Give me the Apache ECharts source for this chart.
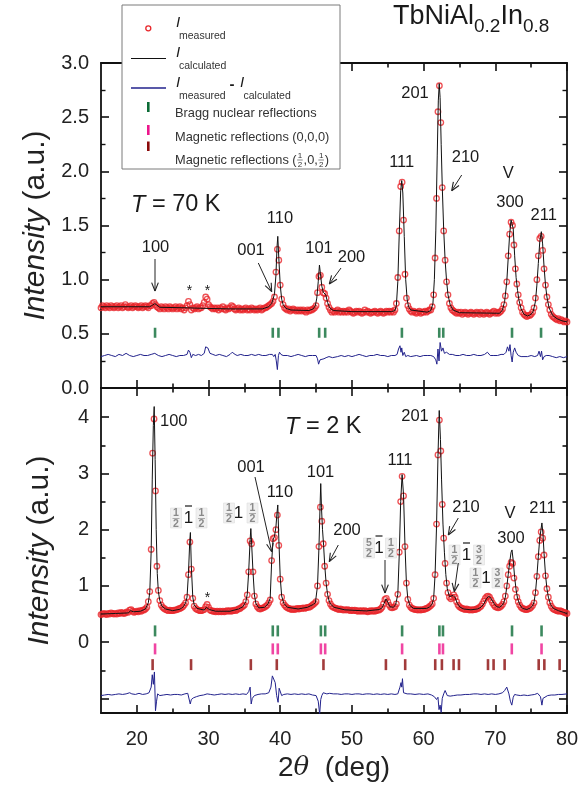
<!DOCTYPE html>
<html><head><meta charset="utf-8">
<script src="https://cdn.jsdelivr.net/npm/echarts@6/dist/echarts.min.js"></script>
<style>html,body{margin:0;padding:0;background:#fff}#c{width:588px;height:804px}</style>
</head><body><div id="c"></div>
<script>
// ---------------- DATA ----------------
const twoThetaStart = 15, twoThetaStep = 0.2;
// T = 70 K measured intensity, sampled every 0.2 deg from 15.0 to 80.0
const measured70K = [
0.74,0.76,0.75,0.74,0.76,0.75,0.74,0.76,0.75,0.74,
0.75,0.76,0.74,0.75,0.76,0.74,0.75,0.77,0.75,0.74,
0.75,0.76,0.74,0.75,0.76,0.75,0.74,0.75,0.76,0.74,
0.75,0.76,0.75,0.74,0.76,0.76,0.78,0.79,0.77,0.75,
0.74,0.73,0.75,0.74,0.73,0.75,0.74,0.73,0.75,0.74,
0.73,0.74,0.75,0.73,0.74,0.75,0.73,0.74,0.72,0.74,
0.76,0.80,0.77,0.72,0.74,0.73,0.74,0.75,0.73,0.74,
0.74,0.76,0.79,0.84,0.82,0.77,0.75,0.74,0.73,0.74,
0.73,0.74,0.72,0.74,0.73,0.75,0.73,0.72,0.74,0.73,
0.74,0.76,0.75,0.73,0.72,0.73,0.74,0.72,0.73,0.72,
0.73,0.74,0.72,0.73,0.72,0.74,0.73,0.72,0.73,0.72,
0.73,0.74,0.72,0.73,0.74,0.74,0.75,0.76,0.77,0.78,
0.80,0.84,1.07,1.28,1.18,0.95,0.82,0.77,0.74,0.73,
0.72,0.73,0.71,0.72,0.73,0.72,0.71,0.72,0.71,0.72,
0.71,0.72,0.71,0.70,0.72,0.71,0.72,0.72,0.73,0.74,
0.76,0.88,1.03,1.04,0.93,0.88,0.87,0.83,0.78,0.745,
0.72,0.70,0.71,0.70,0.71,0.72,0.70,0.71,0.70,0.71,
0.70,0.71,0.70,0.72,0.71,0.70,0.69,0.70,0.71,0.70,
0.71,0.70,0.69,0.70,0.72,0.70,0.71,0.70,0.69,0.70,
0.70,0.71,0.70,0.69,0.70,0.71,0.70,0.69,0.70,0.71,
0.70,0.71,0.70,0.71,0.70,0.72,0.78,1.02,1.45,1.86,
1.90,1.55,1.05,0.83,0.76,0.73,0.71,0.70,0.71,0.70,
0.69,0.70,0.71,0.69,0.70,0.70,0.71,0.70,0.71,0.72,
0.72,0.75,0.86,1.20,1.75,2.55,2.79,2.45,1.85,1.45,
1.18,0.98,0.86,0.78,0.74,0.72,0.71,0.70,0.69,0.70,
0.69,0.70,0.68,0.69,0.70,0.69,0.68,0.69,0.70,0.69,
0.68,0.69,0.70,0.69,0.68,0.70,0.69,0.68,0.69,0.70,
0.69,0.68,0.69,0.70,0.71,0.69,0.70,0.69,0.70,0.71,
0.73,0.77,0.85,0.98,1.22,1.42,1.53,1.50,1.32,1.10,
0.96,0.86,0.79,0.74,0.70,0.68,0.67,0.66,0.67,0.67,
0.68,0.70,0.74,0.83,1.00,1.22,1.38,1.40,1.27,1.10,
0.95,0.84,0.77,0.72,0.68,0.66,0.65,0.64,0.63,0.64,
0.62,0.63,0.62,0.61,0.62,0.61];
const calculated70K = [[15,0.75],[21.8,0.75],[22.2,0.765],[22.5,0.78],[22.8,0.765],[23.2,0.745],[27.0,0.74],[29.5,0.735],[33,0.73],[37.5,0.73],[38.4,0.75],[38.8,0.78],[39.0,0.82],[39.2,0.87],[39.4,1.04],[39.55,1.30],[39.66,1.40],[39.8,1.20],[40.0,0.95],[40.2,0.82],[40.4,0.77],[40.8,0.735],[41.5,0.72],[44.0,0.715],[44.6,0.73],[44.9,0.76],[45.1,0.83],[45.3,0.98],[45.47,1.135],[45.6,1.06],[45.8,0.94],[46.0,0.885],[46.2,0.875],[46.35,0.86],[46.6,0.79],[46.9,0.74],[47.4,0.715],[50,0.705],[55.5,0.705],[56.0,0.715],[56.2,0.76],[56.4,0.98],[56.6,1.42],[56.8,1.82],[56.95,1.915],[57.1,1.80],[57.3,1.40],[57.5,1.00],[57.7,0.82],[57.9,0.75],[58.2,0.72],[60.5,0.70],[61.0,0.715],[61.3,0.78],[61.5,1.00],[61.7,1.45],[61.9,2.15],[62.05,2.65],[62.18,2.81],[62.3,2.68],[62.45,2.25],[62.6,1.86],[62.8,1.46],[63.0,1.18],[63.2,0.99],[63.4,0.86],[63.7,0.77],[64.1,0.72],[65,0.695],[70.6,0.69],[71.0,0.72],[71.3,0.80],[71.6,0.98],[71.8,1.20],[72.0,1.42],[72.2,1.55],[72.33,1.567],[72.5,1.47],[72.7,1.22],[72.9,1.02],[73.1,0.90],[73.3,0.81],[73.6,0.73],[74.0,0.68],[74.5,0.665],[75.0,0.68],[75.3,0.71],[75.6,0.80],[75.8,0.95],[76.0,1.15],[76.2,1.35],[76.42,1.443],[76.6,1.33],[76.8,1.12],[77.0,0.95],[77.2,0.84],[77.5,0.74],[78.0,0.67],[78.6,0.64],[79.3,0.62],[80,0.61]];
const difference70K = [[15,0.29],[15.5,0.30],[16,0.31],[16.5,0.30],[17,0.29],[17.5,0.31],[18,0.30],[18.5,0.32],[19,0.30],[19.5,0.29],[20,0.30],[20.5,0.31],[21,0.30],[21.5,0.30],[22,0.31],[22.5,0.32],[23,0.30],[23.5,0.29],[24,0.30],[24.5,0.31],[25,0.30],[25.5,0.29],[26,0.30],[26.5,0.30],[27,0.31],[27.2,0.35],[27.4,0.33],[27.6,0.28],[27.8,0.31],[28.2,0.30],[28.6,0.31],[29,0.30],[29.4,0.32],[29.6,0.38],[29.9,0.37],[30.2,0.32],[30.6,0.31],[31,0.30],[31.5,0.31],[32,0.30],[32.5,0.29],[33,0.31],[33.3,0.33],[33.7,0.31],[34,0.30],[34.5,0.31],[35,0.30],[35.5,0.30],[36,0.31],[36.5,0.30],[37,0.31],[37.5,0.30],[38,0.30],[38.5,0.31],[38.9,0.31],[39.1,0.29],[39.3,0.31],[39.45,0.25],[39.6,0.17],[39.75,0.30],[39.9,0.33],[40.1,0.31],[40.4,0.30],[41,0.30],[41.5,0.29],[42,0.30],[42.5,0.31],[43,0.30],[43.5,0.29],[44,0.30],[44.5,0.30],[45.0,0.30],[45.2,0.27],[45.35,0.22],[45.55,0.26],[45.8,0.25],[46.1,0.27],[46.4,0.28],[46.8,0.29],[47.3,0.28],[48,0.29],[48.5,0.30],[49,0.29],[49.5,0.30],[50,0.29],[50.5,0.30],[51,0.31],[51.5,0.30],[52,0.29],[52.5,0.30],[53,0.30],[53.5,0.31],[54,0.30],[54.5,0.30],[55,0.29],[55.5,0.30],[56,0.30],[56.3,0.31],[56.5,0.36],[56.7,0.39],[56.85,0.33],[56.95,0.37],[57.1,0.30],[57.3,0.33],[57.5,0.29],[57.8,0.30],[58.2,0.29],[59,0.30],[59.5,0.29],[60,0.30],[60.5,0.30],[61,0.30],[61.4,0.29],[61.7,0.26],[61.85,0.22],[62.0,0.36],[62.15,0.25],[62.3,0.42],[62.5,0.34],[62.7,0.37],[62.9,0.32],[63.2,0.33],[63.6,0.31],[64,0.31],[64.5,0.30],[65,0.30],[65.5,0.31],[66,0.30],[66.5,0.30],[67,0.31],[67.5,0.30],[68,0.30],[68.5,0.31],[68.9,0.33],[69.3,0.30],[69.8,0.30],[70.3,0.30],[70.8,0.31],[71.2,0.31],[71.5,0.33],[71.7,0.38],[71.9,0.34],[72.05,0.40],[72.2,0.30],[72.35,0.24],[72.5,0.33],[72.7,0.37],[72.9,0.33],[73.2,0.30],[73.6,0.29],[74,0.29],[74.5,0.29],[75,0.30],[75.5,0.29],[75.9,0.30],[76.1,0.34],[76.3,0.29],[76.45,0.34],[76.6,0.26],[76.8,0.29],[77.1,0.30],[77.5,0.30],[78,0.29],[78.5,0.28],[79,0.29],[79.5,0.28],[80,0.29]];

// T = 2 K
const measured2K = [
0.49,0.50,0.51,0.50,0.49,0.51,0.50,0.52,0.51,0.50,
0.51,0.50,0.52,0.51,0.53,0.52,0.51,0.52,0.54,0.53,
0.57,0.58,0.55,0.53,0.54,0.55,0.54,0.56,0.55,0.57,
0.57,0.59,0.62,0.72,0.90,1.65,3.36,3.97,2.69,1.35,
0.92,0.74,0.66,0.62,0.60,0.58,0.57,0.56,0.57,0.56,
0.56,0.57,0.57,0.58,0.59,0.60,0.61,0.63,0.66,0.70,
0.80,1.20,1.78,1.30,0.78,0.64,0.60,0.58,0.57,0.56,
0.56,0.57,0.58,0.63,0.67,0.62,0.57,0.56,0.55,0.55,
0.54,0.55,0.54,0.55,0.54,0.55,0.54,0.55,0.56,0.55,
0.56,0.55,0.56,0.57,0.56,0.58,0.59,0.60,0.62,0.64,
0.66,0.72,0.84,1.25,1.80,1.75,1.25,0.82,0.68,0.63,
0.60,0.59,0.60,0.61,0.62,0.64,0.66,0.70,0.75,1.45,
1.84,1.86,2.00,2.26,1.72,1.12,0.80,0.70,0.66,0.63,
0.61,0.60,0.59,0.58,0.59,0.58,0.59,0.60,0.59,0.60,
0.60,0.61,0.60,0.61,0.62,0.62,0.63,0.65,0.67,0.69,
0.72,1.00,1.70,2.40,2.15,1.75,1.35,1.05,0.85,0.74,
0.68,0.64,0.62,0.61,0.60,0.59,0.58,0.59,0.58,0.57,
0.58,0.57,0.58,0.57,0.56,0.57,0.56,0.57,0.56,0.55,
0.56,0.55,0.56,0.55,0.56,0.55,0.54,0.55,0.56,0.55,
0.56,0.55,0.56,0.57,0.57,0.59,0.62,0.68,0.76,0.78,
0.72,0.66,0.62,0.61,0.62,0.63,0.68,0.85,1.60,2.50,
2.95,2.60,1.70,1.05,0.76,0.66,0.62,0.60,0.59,0.58,
0.58,0.57,0.58,0.57,0.58,0.58,0.59,0.60,0.61,0.63,
0.65,0.68,0.78,1.20,2.10,3.33,3.95,3.40,2.45,1.85,
1.40,1.05,0.88,0.80,0.77,0.80,0.84,0.80,0.72,0.66,
0.63,0.61,0.60,0.59,0.58,0.59,0.58,0.57,0.58,0.57,
0.58,0.58,0.59,0.60,0.62,0.64,0.68,0.73,0.78,0.81,
0.82,0.80,0.75,0.70,0.66,0.63,0.62,0.61,0.62,0.64,
0.67,0.72,0.82,1.00,1.20,1.35,1.42,1.40,1.14,0.94,
0.80,0.72,0.66,0.62,0.60,0.59,0.58,0.58,0.59,0.60,
0.62,0.65,0.70,0.88,1.17,1.52,1.81,1.96,1.85,1.55,
1.18,0.95,0.80,0.70,0.64,0.60,0.58,0.57,0.56,0.55,
0.56,0.55,0.54,0.53,0.52,0.51];
const calculated2K = [[15,0.50],[17,0.51],[18.8,0.52],[19.15,0.56],[19.5,0.54],[20.5,0.55],[21.2,0.59],[21.6,0.70],[21.8,0.88],[22.0,1.62],[22.15,2.90],[22.3,3.85],[22.42,4.19],[22.55,3.25],[22.7,2.00],[22.85,1.22],[23.0,0.90],[23.2,0.74],[23.5,0.64],[24,0.59],[25,0.56],[26,0.585],[26.5,0.63],[26.8,0.70],[27.0,0.80],[27.2,1.22],[27.38,1.80],[27.47,1.95],[27.6,1.35],[27.8,0.80],[28.0,0.66],[28.4,0.60],[29.4,0.57],[29.7,0.62],[29.85,0.64],[30.1,0.58],[31,0.55],[33,0.55],[34.2,0.59],[34.8,0.63],[35.0,0.66],[35.2,0.72],[35.4,0.85],[35.6,1.25],[35.8,1.82],[35.9,2.02],[36.0,1.78],[36.2,1.25],[36.4,0.84],[36.6,0.69],[37.0,0.61],[37.8,0.62],[38.3,0.68],[38.6,0.78],[38.8,1.42],[39.0,1.82],[39.2,1.88],[39.4,2.05],[39.55,2.30],[39.66,2.44],[39.8,1.85],[40.0,1.15],[40.2,0.82],[40.5,0.69],[41.0,0.62],[42.5,0.59],[43.8,0.62],[44.6,0.67],[44.9,0.70],[45.2,1.00],[45.4,1.68],[45.55,2.40],[45.65,2.82],[45.75,2.40],[45.9,2.00],[46.05,1.72],[46.2,1.38],[46.4,1.05],[46.6,0.85],[46.8,0.74],[47.0,0.68],[47.5,0.62],[49,0.575],[52,0.555],[53.8,0.58],[54.2,0.61],[54.5,0.69],[54.75,0.77],[55.0,0.71],[55.3,0.63],[55.8,0.62],[56.1,0.67],[56.4,0.85],[56.6,1.55],[56.8,2.50],[57.0,2.98],[57.2,2.62],[57.4,1.72],[57.6,1.05],[57.8,0.77],[58.1,0.65],[58.6,0.60],[60.4,0.60],[60.8,0.62],[61.2,0.68],[61.4,0.78],[61.6,1.20],[61.8,2.05],[62.0,3.30],[62.18,4.12],[62.35,3.60],[62.5,2.90],[62.7,2.10],[62.9,1.60],[63.1,1.20],[63.3,0.95],[63.6,0.81],[63.85,0.78],[64.1,0.83],[64.4,0.79],[64.7,0.69],[65.1,0.62],[65.6,0.59],[66.6,0.575],[67.5,0.59],[68.0,0.62],[68.4,0.68],[68.8,0.78],[69.1,0.815],[69.4,0.78],[69.8,0.69],[70.2,0.63],[70.6,0.62],[71.0,0.66],[71.2,0.71],[71.4,0.80],[71.6,0.98],[71.8,1.20],[72.0,1.42],[72.2,1.60],[72.33,1.64],[72.5,1.45],[72.7,1.15],[72.9,0.93],[73.1,0.78],[73.4,0.67],[73.8,0.60],[74.4,0.58],[74.9,0.61],[75.2,0.645],[75.4,0.71],[75.6,0.88],[75.8,1.17],[76.0,1.52],[76.2,1.85],[76.5,2.12],[76.65,1.92],[76.8,1.58],[77.0,1.20],[77.2,0.95],[77.4,0.80],[77.7,0.67],[78.1,0.60],[78.8,0.56],[79.5,0.53],[80,0.51]];
const difference2K = [[15,-0.95],[15.5,-0.94],[16,-0.93],[16.5,-0.94],[17,-0.93],[17.5,-0.92],[18,-0.93],[18.5,-0.92],[19,-0.90],[19.3,-0.92],[19.8,-0.93],[20.3,-0.91],[20.8,-0.93],[21.3,-0.92],[21.7,-0.90],[22.0,-0.80],[22.15,-0.58],[22.3,-0.75],[22.45,-0.53],[22.6,-1.22],[22.75,-1.05],[22.9,-0.92],[23.2,-0.95],[23.7,-0.94],[24.2,-0.93],[24.7,-0.94],[25.2,-0.93],[25.7,-0.93],[26.2,-0.94],[26.7,-0.92],[27.1,-0.91],[27.3,-0.88],[27.45,-1.10],[27.6,-1.02],[27.9,-0.99],[28.3,-0.97],[28.8,-0.95],[29.3,-0.94],[29.8,-0.92],[30.3,-0.93],[30.8,-0.94],[31.3,-0.93],[31.8,-0.92],[32.3,-0.93],[32.8,-0.92],[33.3,-0.93],[33.8,-0.92],[34.3,-0.93],[34.8,-0.92],[35.3,-0.93],[35.6,-0.88],[35.8,-0.80],[35.95,-1.10],[36.1,-1.00],[36.4,-0.95],[36.9,-0.93],[37.4,-0.92],[37.9,-0.92],[38.4,-0.90],[38.7,-0.80],[38.9,-0.60],[39.1,-0.63],[39.3,-0.72],[39.5,-0.95],[39.7,-1.07],[39.85,-0.82],[40.0,-0.85],[40.2,-0.95],[40.5,-0.93],[41,-0.92],[41.5,-0.93],[42,-0.92],[42.5,-0.93],[43,-0.92],[43.5,-0.93],[44,-0.92],[44.5,-0.94],[45.0,-0.95],[45.3,-1.05],[45.5,-1.28],[45.65,-1.02],[45.8,-0.95],[46.0,-0.90],[46.2,-0.93],[46.5,-0.92],[46.9,-0.91],[47.4,-0.92],[48,-0.92],[48.5,-0.93],[49,-0.92],[49.5,-0.92],[50,-0.93],[50.5,-0.92],[51,-0.92],[51.5,-0.93],[52,-0.92],[52.5,-0.92],[53,-0.93],[53.5,-0.92],[54,-0.93],[54.5,-0.92],[55,-0.93],[55.5,-0.92],[56,-0.93],[56.4,-0.92],[56.7,-0.80],[56.85,-0.72],[56.95,-0.80],[57.05,-0.65],[57.2,-0.90],[57.4,-0.88],[57.7,-0.92],[58.2,-0.92],[58.8,-0.93],[59.4,-0.92],[60,-0.93],[60.6,-0.92],[61.1,-0.94],[61.5,-0.97],[61.8,-1.02],[62.0,-0.98],[62.15,-1.20],[62.3,-1.12],[62.45,-1.25],[62.6,-1.00],[62.8,-0.92],[63.0,-0.86],[63.3,-0.95],[63.7,-0.96],[64.2,-0.95],[64.7,-0.94],[65.2,-0.94],[65.8,-0.93],[66.4,-0.93],[67,-0.92],[67.5,-0.92],[68,-0.93],[68.5,-0.92],[69,-0.93],[69.5,-0.92],[70,-0.93],[70.5,-0.92],[71.0,-0.90],[71.3,-0.86],[71.6,-0.80],[71.9,-0.92],[72.1,-1.05],[72.3,-1.12],[72.5,-0.98],[72.7,-0.93],[73,-0.94],[73.5,-0.95],[74,-0.94],[74.5,-0.95],[75,-0.94],[75.5,-0.93],[75.9,-0.91],[76.1,-0.88],[76.3,-0.97],[76.5,-1.12],[76.65,-1.00],[76.9,-0.97],[77.3,-0.95],[77.8,-0.94],[78.3,-0.94],[78.8,-0.93],[79.3,-0.93],[80,-0.92]];

// Reflection positions (2theta, deg)
const nuclear70K = [22.54, 38.96, 39.75, 45.43, 46.27, 56.97, 62.18, 62.74, 72.33, 76.38];
const nuclear2K = [22.54, 38.96, 39.66, 45.67, 46.27, 57.0, 62.2, 62.7, 72.33, 76.45];
const magnetic000_2K = [22.54, 38.96, 39.66, 45.67, 46.27, 57.0, 62.2, 62.7, 72.3, 76.45];
const magneticHalf_2K = [22.2, 27.56, 35.9, 39.52, 46.03, 54.74, 57.43, 61.62, 62.55, 64.18, 64.93, 68.98, 69.76, 71.3, 76.05, 76.84, 78.97];
// tick-row levels (intensity units)
const rowNuclear70K = 0.51, rowNuclear2K = 0.2, rowMag000 = -0.12, rowMagHalf = -0.40;

// axis ticks
const xMajor = [20, 30, 40, 50, 60, 70, 80];
const xMinor = [25, 35, 45, 55, 65, 75];
const yMajor2K = [-1, 0, 1, 2, 3, 4];
const yLabels2K = [0, 1, 2, 3, 4];
const yMinor2K = [-0.5, 0.5, 1.5, 2.5, 3.5];

// ---------------- BUILD ----------------
const xy = arr => arr.map((v, i) => [+(twoThetaStart + i * twoThetaStep).toFixed(2), v]);
const F = '"Liberation Sans", Arial, Helvetica, sans-serif';
const cv = document.createElement('canvas').getContext('2d');
function tw(s, size, st) { cv.font = (st || '') + ' ' + size + 'px ' + F; return cv.measureText(s).width; }
const G = [];
function T(x, y, s, size, o) {
  o = o || {};
  G.push({type: 'text', z: 100, x: x, y: y, silent: true, style: {text: s, fontSize: size, fontFamily: F,
    fontStyle: o.italic ? 'italic' : 'normal', fontWeight: o.bold ? 'bold' : 'normal', fill: o.color || '#1a1a1a',
    align: o.align || 'center', verticalAlign: o.va || 'middle', textAlign: o.align || 'center', textVerticalAlign: o.va || 'middle'}});
}
function L(x1, y1, x2, y2, c, w) { G.push({type: 'line', z: 100, silent: true, shape: {x1, y1, x2, y2}, style: {stroke: c || '#1a1a1a', lineWidth: w || 1}}); }
function arrow(x1, y1, x2, y2) {
  L(x1, y1, x2, y2, '#222', 1);
  const a = Math.atan2(y2 - y1, x2 - x1), h = 9, sp = 0.38;
  L(x2, y2, x2 - h * Math.cos(a - sp), y2 - h * Math.sin(a - sp), '#222', 1.1);
  L(x2, y2, x2 - h * Math.cos(a + sp), y2 - h * Math.sin(a + sp), '#222', 1.1);
}
function seq(x, y, parts) {
  let cx = x;
  parts.forEach(p => { T(cx, y + (p[2] || 0), p[0], p[1], {italic: p[3], align: 'left', bold: p[4]}); cx += tw(p[0], p[1], p[3] ? 'italic' : ''); });
}
function frac(cx, cy, n, d) {
  G.push({type: 'rect', z: 99, silent: true, shape: {x: cx - 5.5, y: cy - 10, width: 11, height: 20}, style: {fill: '#f0f0f0', stroke: '#dedede', lineWidth: 0.6}});
  T(cx, cy - 4.8, n, 10.5, {color: '#8a8a8a', bold: true});
  L(cx - 3.5, cy + 0.5, cx + 3.5, cy + 0.5, '#9a9a9a', 0.8);
  T(cx, cy + 5.8, d, 10.5, {color: '#8a8a8a', bold: true});
}
function one(cx, cy, bar) { T(cx, cy, '1', 17); if (bar) L(cx - 3.5, cy - 12, cx + 3.5, cy - 12, '#1a1a1a', 1.2); }

// ----- annotations: top panel (70 K)
seq(131, 205, [['T', 23.5, 0, true], [' = 70 K', 23.5]]);
T(155.5, 247, '100', 16.5); arrow(155, 259, 155, 291);
T(189.5, 291, '*', 14); T(207.5, 291, '*', 14);
T(251, 250, '001', 16.5); arrow(258.3, 263, 271.7, 291.7);
T(280, 218, '110', 16.5);
T(319, 248, '101', 16.5);
T(351.5, 257, '200', 16.5); arrow(341, 268, 329.3, 284);
T(401.7, 162, '111', 16.5);
T(415, 93, '201', 16.5);
T(465.5, 157, '210', 16.5); arrow(461.7, 175, 451.7, 190.7);
T(508.3, 173, 'V', 16.5);
T(510, 202, '300', 16.5);
T(543.7, 215, '211', 16.5);
// ----- annotations: bottom panel (2 K)
seq(285, 427, [['T', 23.5, 0, true], [' = 2 K', 23.5]]);
T(160, 421.5, '100', 16.5, {align: 'left'});
T(207.5, 598, '*', 14);
frac(176, 518, '1', '2'); one(188.5, 518, true); frac(201.5, 518, '1', '2');
frac(229, 513, '1', '2'); one(238.5, 513, false); frac(252.5, 513, '1', '2');
T(251, 467, '001', 16.5); arrow(255, 477, 271.7, 551.7);
T(280, 492, '110', 16.5);
T(320.5, 472, '101', 16.5);
T(347, 530, '200', 16.5); arrow(338.3, 545, 329.3, 561.7);
frac(369, 548, '5', '2'); one(379, 548, true); frac(391, 548, '1', '2'); arrow(385, 560, 385, 593);
T(400, 460, '111', 16.5);
T(415, 416, '201', 16.5);
T(466, 507, '210', 16.5); arrow(458.3, 518, 448.3, 535);
frac(454.5, 555, '1', '2'); one(466.5, 555, true); frac(479, 555, '3', '2'); arrow(458.3, 563, 454.3, 591.7);
frac(475.5, 578, '1', '2'); one(486, 578, false); frac(497.5, 578, '3', '2');
T(510, 513, 'V', 16.5);
T(511, 538, '300', 16.5);
T(542.5, 508, '211', 16.5);

// ----- title
seq(393, 17, [['TbNiAl', 27], ['0.2', 19, 9.5], ['In', 27], ['0.8', 19, 9.5]]);

// ----- legend box
G.push({type: 'rect', z: 98, silent: true, shape: {x: 122, y: 5, width: 218, height: 164}, style: {fill: '#fff', stroke: '#7a7a7a', lineWidth: 1}});
G.push({type: 'circle', z: 100, silent: true, shape: {cx: 148.3, cy: 28.3, r: 2.5}, style: {fill: 'none', stroke: '#e8262a', lineWidth: 1.3}});
T(176, 23, 'I', 15, {italic: true, align: 'left'}); T(179, 36, 'measured', 10.5, {align: 'left', color: '#333'});
L(131, 58.5, 166, 58.5, '#111', 1.2);
T(176, 53, 'I', 15, {italic: true, align: 'left'}); T(179, 66, 'calculated', 10.5, {align: 'left', color: '#333'});
L(131, 88, 166, 88, '#22228c', 1.5);
T(176, 83, 'I', 15, {italic: true, align: 'left'}); T(179, 96, 'measured', 10.5, {align: 'left', color: '#333'});
T(232, 85, '-', 15, {bold: true}); T(240, 83, 'I', 15, {italic: true, align: 'left'}); T(243.5, 96, 'calculated', 10.5, {align: 'left', color: '#333'});
G.push({type: 'rect', z: 100, silent: true, shape: {x: 147, y: 102, width: 2.6, height: 10}, style: {fill: '#0b6b36'}});
T(175, 113, 'Bragg nuclear reflections', 12.8, {align: 'left', color: '#333'});
G.push({type: 'rect', z: 100, silent: true, shape: {x: 147, y: 125, width: 2.6, height: 10}, style: {fill: '#ec168c'}});
T(175, 137, 'Magnetic reflections (0,0,0)', 12.8, {align: 'left', color: '#333'});
G.push({type: 'rect', z: 100, silent: true, shape: {x: 147, y: 141.5, width: 2.6, height: 9.5}, style: {fill: '#8b0a0a'}});
(function () {
  const s1 = 'Magnetic reflections (';
  let x = 175; T(x, 160, s1, 12.8, {align: 'left', color: '#333'}); x += tw(s1, 12.8);
  function sf(xx) { T(xx + 2.8, 155.3, '1', 8, {color: '#333'}); L(xx, 160, xx + 5.6, 160, '#555', 0.7); T(xx + 2.8, 164.8, '2', 8, {color: '#333'}); }
  sf(x + 0.5); x += 7;
  T(x, 160, ',0,', 12.8, {align: 'left', color: '#333'}); x += tw(',0,', 12.8);
  sf(x + 0.5); x += 7;
  T(x, 160, ')', 12.8, {align: 'left', color: '#333'});
})();

// ---------------- AXES ----------------
const AX = '#111';
function xAxisDef(grid, pos, ticks, len, withLine, labels) {
  const o = {type: 'value', gridIndex: grid, position: pos, min: 15, max: 80,
    axisLine: withLine ? {show: true, onZero: false, lineStyle: {color: AX, width: 1.8}} : {show: false, onZero: false},
    axisTick: {show: true, inside: true, length: len, customValues: ticks, lineStyle: {color: AX, width: 1.6}},
    axisLabel: {show: false}, splitLine: {show: false}};
  if (labels) {
    o.axisLabel = {show: true, customValues: xMajor, fontSize: 20, fontFamily: F, color: '#222', margin: 16};
    o.name = '2{i|θ}  (deg)'; o.nameLocation = 'middle'; o.nameGap = 41;
    o.nameTextStyle = {fontSize: 28, fontFamily: F, color: '#222', rich: {i: {fontSize: 26, fontStyle: 'italic', fontFamily: 'DejaVu Serif, serif', color: '#222'}}};
  }
  return o;
}
function yName() { return {name: '{i|Intensity} (a.u.)', nameLocation: 'middle', nameRotate: 90, nameGap: 46,
  nameTextStyle: {fontSize: 30, fontFamily: F, color: '#222', rich: {i: {fontSize: 30, fontStyle: 'italic', fontFamily: F, color: '#222'}}}}; }

const xAxes = [
  xAxisDef(0, 'bottom', xMajor, 8, true, false),
  xAxisDef(0, 'top', xMajor, 8, true, false),
  xAxisDef(1, 'bottom', xMajor, 8, true, true),
  xAxisDef(1, 'top', xMajor, 8, true, false),
  xAxisDef(2, 'bottom', xMinor, 4.5, false, false),
  xAxisDef(2, 'top', xMinor, 4.5, false, false),
  xAxisDef(3, 'bottom', xMinor, 4.5, false, false),
  xAxisDef(3, 'top', xMinor, 4.5, false, false)
];
const yTop = (pos, labels) => Object.assign({type: 'value', gridIndex: 0, position: pos, min: 0, max: 3, interval: 0.5,
  axisLine: {show: true, onZero: false, lineStyle: {color: AX, width: 1.8}},
  axisTick: {show: true, inside: true, length: 8, lineStyle: {color: AX, width: 1.6}},
  minorTick: {show: true, splitNumber: 2, length: 4.5, lineStyle: {color: AX, width: 1.4}},
  axisLabel: labels ? {show: true, fontSize: 20, fontFamily: F, color: '#222', margin: 12, formatter: v => v.toFixed(1)} : {show: false},
  splitLine: {show: false}}, labels ? yName() : {});
const yBot = (grid, pos, ticks, len, withLine, labels) => Object.assign({type: 'value', gridIndex: grid, position: pos, min: -1.26, max: 4.52,
  axisLine: withLine ? {show: true, onZero: false, lineStyle: {color: AX, width: 1.8}} : {show: false, onZero: false},
  axisTick: {show: true, inside: true, length: len, customValues: ticks, lineStyle: {color: AX, width: 1.6}},
  axisLabel: labels ? {show: true, customValues: yLabels2K, fontSize: 20, fontFamily: F, color: '#222', margin: 12} : {show: false},
  splitLine: {show: false}}, labels ? yName() : {});
const yAxes = [
  yTop('left', true), yTop('right', false),
  yBot(1, 'left', yMajor2K, 8, true, true), yBot(1, 'right', yMajor2K, 8, true, false),
  {type: 'value', gridIndex: 2, min: 0, max: 3, show: false},
  yBot(3, 'left', yMinor2K, 4.5, false, false), yBot(3, 'right', yMinor2K, 4.5, false, false)
];

const ticksSeries = (data, level, color, xi, yi, h) => ({type: 'scatter', xAxisIndex: xi, yAxisIndex: yi, silent: true,
  symbol: 'rect', symbolSize: [2.6, h], data: data.map(x => [x, level]), itemStyle: {color: color}, z: 4});
const meas = (data, xi, yi) => ({type: 'scatter', xAxisIndex: xi, yAxisIndex: yi, silent: true, symbol: 'circle', symbolSize: 5.5,
  data: xy(data), itemStyle: {color: 'rgba(0,0,0,0)', borderColor: '#e8262a', borderWidth: 1.3}, z: 2});
const line = (data, xi, yi, color, w, z) => ({type: 'line', xAxisIndex: xi, yAxisIndex: yi, silent: true, showSymbol: false, symbol: 'none',
  data: data, lineStyle: {color: color, width: w}, z: z});

const grids = [
  {left: 101, right: 21, top: 63, height: 325},
  {left: 101, right: 21, top: 388, height: 325},
  {left: 101, right: 21, top: 63, height: 325},
  {left: 101, right: 21, top: 388, height: 325}
];

const chart = echarts.init(document.getElementById('c'), null, {renderer: 'canvas'});
chart.setOption({
  animation: false,
  backgroundColor: '#fff',
  grid: grids,
  xAxis: xAxes,
  yAxis: yAxes,
  series: [
    meas(measured70K, 0, 0),
    line(calculated70K, 0, 0, '#111', 1, 3),
    line(difference70K, 0, 0, '#22228c', 1, 3),
    ticksSeries(nuclear70K, rowNuclear70K, '#0b6b36', 0, 0, 10),
    meas(measured2K, 2, 2),
    line(calculated2K, 2, 2, '#111', 1, 3),
    line(difference2K, 2, 2, '#22228c', 1, 3),
    ticksSeries(nuclear2K, rowNuclear2K, '#0b6b36', 2, 2, 11),
    ticksSeries(magnetic000_2K, rowMag000, '#ec168c', 2, 2, 11),
    ticksSeries(magneticHalf_2K, rowMagHalf, '#8b0a0a', 2, 2, 11)
  ],
  graphic: G
});
</script></body></html>
